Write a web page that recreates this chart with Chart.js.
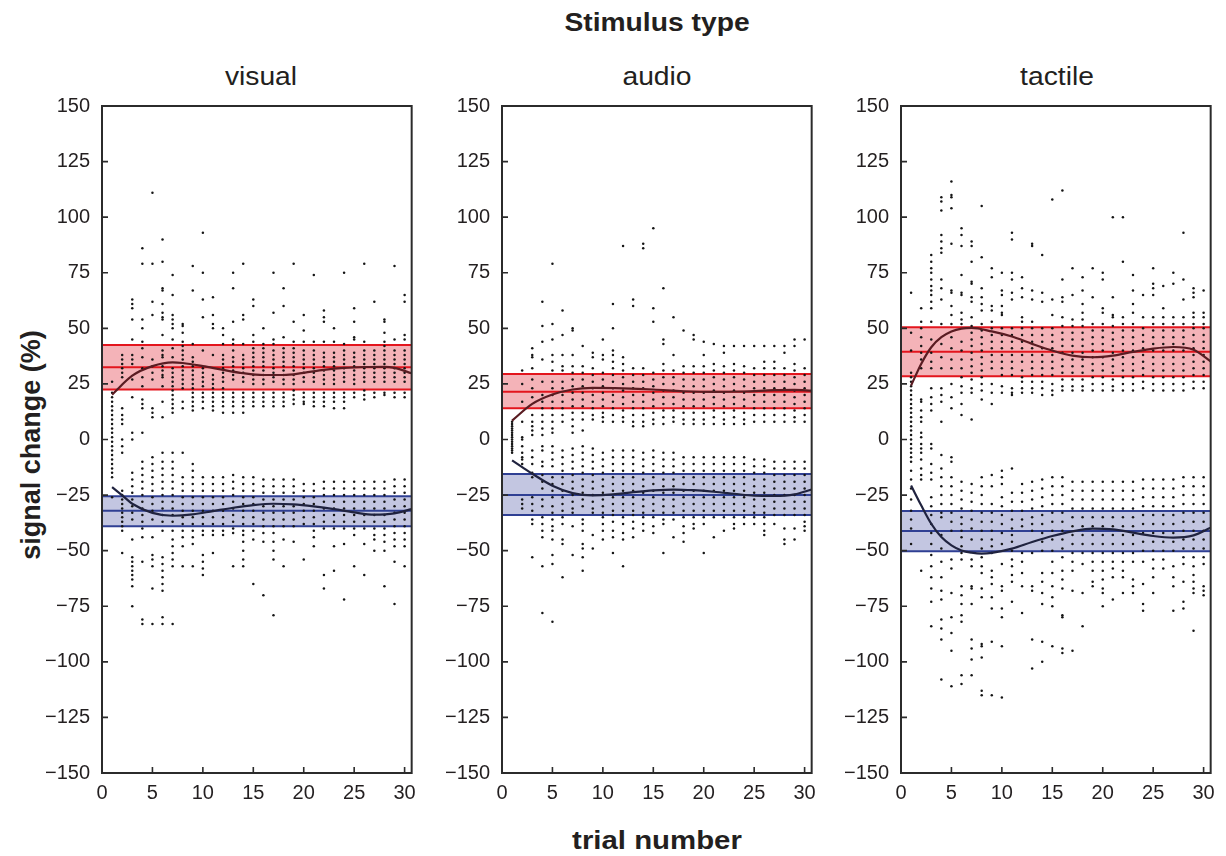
<!DOCTYPE html>
<html>
<head>
<meta charset="utf-8">
<script src="https://cdn.jsdelivr.net/npm/chart.js@4.4.1/dist/chart.umd.min.js"></script>
<style>
  body { margin: 0; width: 1226px; height: 856px; background: #fff; overflow: hidden; position: relative; font-family: 'Liberation Sans', Arial, sans-serif; color: #231f20; }
  .txt { position: absolute; white-space: nowrap; transform: translate(-50%, -50%) scaleX(1.13); }
  .panel { position: absolute; top: 82px; }
</style>
</head>
<body>
<div class="txt" style="left:657px;top:22px;font-size:25px;font-weight:bold">Stimulus type</div>
<div class="txt" style="left:261px;top:76px;font-size:25px">visual</div>
<div class="txt" style="left:657px;top:76px;font-size:25px">audio</div>
<div class="txt" style="left:1057px;top:76px;font-size:25px">tactile</div>
<div class="txt" style="left:657px;top:840px;font-size:26px;font-weight:bold">trial number</div>
<div class="txt" style="left:31px;top:445px;font-size:27px;font-weight:bold;transform:translate(-50%, -50%) rotate(-90deg)">signal change (%)</div>

<canvas id="visual" class="panel" style="left:32px" width="392" height="726"></canvas>
<canvas id="audio" class="panel" style="left:432px" width="392" height="726"></canvas>
<canvas id="tactile" class="panel" style="left:831px" width="392" height="726"></canvas>

<script>
const trialNumbers = [1, 2, 3, 4, 5, 6, 7, 8, 9, 10, 11, 12, 13, 14, 15, 16, 17, 18, 19, 20, 21, 22, 23, 24, 25, 26, 27, 28, 29, 30]
const xTicks = [0, 5, 10, 15, 20, 25, 30]
const yTicks = [-150, -125, -100, -75, -50, -25, 0, 25, 50, 75, 100, 125, 150]
const xMax = 30.7

// one list of dot values per trial (signal change, %)
const visualDots = [
  [26, 21, 19, 17, 15, 13, 11, 9, 7, 5, 3, 1, -1, -3, -5, -7, -9, -11, -13, -15, -17, -26],
  [38, 36, 34, 32, 30, 28, 14, 11, 9, 7, 0, -3, -6, -23, -25, -27, -29, -31, -33, -35, -37, -39, -41, -51],
  [63, 61, 59, 54, 45, 38, 36, 34, 27, 19, 3, 0, -15, -18, -21, -24, -27, -30, -33, -36, -45, -53, -55, -57, -59, -61, -63, -66, -75],
  [86, 79, 54, 50, 44, 41, 37, 32, 28, 24, 18, 16, 14, 3, -10, -13, -16, -19, -22, -25, -28, -31, -34, -37, -40, -44, -55, -81, -83],
  [111, 79, 62, 56, 36, 33, 30, 27, 14, 12, 10, -8, -11, -14, -17, -20, -23, -26, -29, -32, -36, -44, -52, -54, -57, -67, -83],
  [90, 80, 68, 67, 61, 57, 55, 54, 47, 40, 38, 37, 33, 31, 29, 28, 24, 17, 10, -6, -10, -13, -16, -19, -22, -25, -28, -31, -34, -37, -41, -53, -56, -59, -62, -65, -68, -80, -83],
  [74, 65, 56, 54, 52, 50, 45, 41, 37, 32, 30, 28, 26, 24, 22, 20, 18, 16, 14, 12, -6, -10, -13, -16, -19, -22, -25, -28, -31, -34, -37, -41, -45, -48, -51, -54, -57, -83],
  [52, 51, 48, 44, 42, 40, 38, 36, 33, 31, 29, 27, 25, 23, 17, 14, -6, -17, -20, -23, -26, -29, -32, -35, -38, -41, -44, -48, -57],
  [78, 67, 43, 37, 35, 33, 31, 29, 27, 25, 23, 21, 19, 17, 15, 13, -11, -14, -17, -20, -23, -26, -29, -32, -35, -38, -41, -44, -47, -57],
  [93, 75, 63, 55, 40, 32, 30, 28, 26, 24, 21, 19, 17, 14, -17, -20, -23, -26, -29, -32, -35, -38, -41, -43, -52, -55, -58, -61],
  [64, 56, 52, 50, 38, 29, 27, 25, 23, 21, 19, 17, 15, 13, -17, -20, -23, -26, -29, -32, -35, -38, -41, -43, -51],
  [50, 47, 43, 38, 36, 34, 32, 30, 28, 26, 23, 21, 19, 17, 15, 12, -17, -20, -23, -26, -29, -32, -35, -38, -41, -43],
  [75, 68, 53, 45, 43, 40, 37, 35, 33, 31, 29, 27, 21, 19, 17, 15, 12, -16, -19, -22, -25, -28, -31, -34, -37, -40, -42, -57],
  [79, 56, 54, 43, 38, 36, 34, 32, 30, 28, 26, 21, 19, 17, 15, 12, -17, -20, -23, -26, -29, -32, -35, -38, -41, -43, -46, -50, -54, -57],
  [63, 60, 47, 44, 41, 39, 37, 35, 33, 31, 29, 27, 25, 21, 19, 17, 15, -17, -20, -23, -26, -29, -32, -35, -38, -41, -45, -65],
  [50, 43, 41, 39, 37, 35, 33, 31, 29, 27, 25, 21, 19, 17, 15, -18, -21, -24, -27, -30, -33, -36, -39, -42, -46, -70],
  [75, 57, 45, 43, 40, 38, 36, 34, 32, 30, 28, 26, 21, 19, 17, 15, -18, -21, -24, -27, -30, -33, -36, -39, -42, -46, -50, -54, -79],
  [68, 60, 46, 41, 39, 37, 35, 33, 31, 29, 27, 25, 21, 19, 17, 15, -18, -21, -24, -27, -30, -33, -36, -39, -45, -57],
  [79, 53, 44, 41, 39, 37, 35, 33, 31, 29, 27, 25, 22, 20, 18, 16, -18, -21, -24, -27, -30, -33, -36, -39, -46],
  [56, 49, 44, 40, 38, 36, 34, 32, 30, 28, 26, 21, 19, 17, 16, -20, -23, -26, -29, -32, -35, -38, -54],
  [74, 44, 40, 38, 36, 34, 32, 30, 28, 26, 21, 19, 17, 15, -20, -23, -26, -29, -32, -35, -38, -41, -44, -48],
  [58, 55, 53, 44, 39, 37, 35, 33, 31, 29, 27, 25, 21, 19, 17, 15, -19, -22, -25, -28, -31, -34, -37, -40, -61, -67],
  [50, 44, 39, 37, 35, 33, 31, 29, 27, 25, 21, 19, 17, 14, -19, -22, -25, -28, -31, -34, -37, -40, -48, -59],
  [75, 43, 40, 38, 36, 34, 32, 30, 28, 26, 21, 19, 17, 14, -19, -22, -25, -28, -31, -34, -37, -40, -47, -72],
  [59, 53, 46, 45, 39, 37, 35, 33, 31, 29, 27, 25, 21, 19, -19, -22, -25, -28, -31, -34, -37, -40, -43, -57],
  [79, 44, 40, 38, 36, 34, 32, 30, 28, 26, 22, 20, 18, -19, -22, -25, -28, -31, -34, -37, -40, -47, -61],
  [62, 40, 38, 36, 34, 32, 30, 28, 26, 21, 19, -19, -22, -25, -28, -31, -34, -37, -40, -43, -45, -50],
  [54, 53, 48, 44, 42, 40, 38, 36, 34, 32, 30, 28, 26, 21, 20, -19, -22, -25, -28, -31, -34, -37, -40, -43, -46, -50, -66],
  [78, 45, 40, 38, 36, 34, 32, 30, 28, 26, 21, 19, -18, -21, -24, -27, -30, -33, -36, -39, -42, -45, -48, -55, -74],
  [65, 62, 47, 45, 40, 38, 36, 34, 32, 30, 28, 26, 21, 19, -18, -21, -24, -27, -30, -33, -36, -39, -42, -45, -48, -57]
]

const audioDots = [
  [8, 7, 6, 5, 4, 3, 2, 1, 0, -1, -2, -3, -4, -5, -6],
  [31, 25, 17, 8, 1, 0, -3, -6, -8, -9, -11, -27, -29, -31],
  [41, 38, 37, 32, 27, 23, 19, 11, 8, 6, 4, 2, -5, -8, -11, -15, -17, -26, -29, -32, -36, -38, -53],
  [62, 51, 44, 36, 26, 20, 17, 14, 11, 8, 5, 2, -3, -5, -10, -12, -16, -19, -22, -27, -30, -35, -38, -41, -44, -57, -78],
  [79, 52, 45, 38, 35, 31, 26, 23, 20, 17, 14, 11, 8, 5, 3, -3, -6, -9, -12, -17, -20, -23, -26, -30, -33, -36, -39, -41, -45, -52, -56, -82],
  [58, 47, 38, 33, 31, 26, 23, 20, 17, 14, 11, 8, -5, -8, -11, -14, -17, -20, -23, -26, -29, -32, -35, -38, -45, -47, -62],
  [50, 49, 38, 33, 30, 27, 24, 21, 18, 15, 12, 9, 6, 3, -4, -7, -10, -13, -16, -19, -22, -25, -28, -31, -33, -39, -52],
  [42, 33, 30, 27, 24, 21, 18, 15, 12, 9, 4, -3, -6, -9, -12, -15, -18, -21, -24, -27, -30, -36, -38, -41, -47, -49, -53, -59],
  [39, 37, 32, 29, 26, 23, 20, 17, 14, 11, 9, -4, -7, -10, -13, -16, -19, -22, -25, -28, -31, -33, -43, -49],
  [45, 38, 36, 30, 27, 24, 21, 18, 15, 12, 10, 8, -6, -9, -12, -15, -18, -21, -24, -27, -30, -33, -35, -38, -41, -45],
  [61, 50, 40, 38, 35, 32, 29, 26, 23, 20, 17, 14, 11, 8, -5, -8, -11, -14, -17, -20, -23, -26, -29, -32, -34, -37, -41, -44, -51],
  [87, 37, 34, 31, 28, 25, 22, 19, 16, 13, 10, 8, -5, -8, -11, -14, -17, -20, -23, -26, -29, -32, -35, -38, -42, -45, -57],
  [63, 60, 32, 29, 26, 23, 20, 17, 14, 11, 8, 6, -5, -8, -11, -14, -17, -20, -23, -26, -29, -32, -34, -37, -40, -44],
  [88, 86, 32, 29, 26, 23, 20, 17, 14, 11, 8, 6, -6, -9, -12, -15, -18, -21, -24, -27, -30, -33, -35, -38, -41],
  [95, 59, 53, 30, 27, 24, 21, 18, 15, 12, 9, 7, -5, -8, -11, -14, -17, -20, -23, -26, -29, -32, -35, -39, -42],
  [68, 45, 43, 34, 31, 28, 25, 22, 19, 16, 13, 10, 7, -6, -9, -12, -15, -18, -21, -24, -27, -30, -33, -36, -38, -51],
  [55, 38, 31, 28, 25, 22, 19, 16, 13, 10, 8, -6, -9, -12, -15, -18, -21, -24, -27, -30, -33, -36, -44],
  [49, 33, 30, 27, 24, 21, 18, 15, 12, 9, 7, -8, -11, -14, -17, -20, -23, -26, -29, -32, -35, -39, -42, -46],
  [47, 45, 33, 30, 27, 24, 21, 18, 15, 12, 9, 7, -8, -11, -14, -17, -20, -23, -26, -29, -32, -35, -38, -40],
  [44, 38, 33, 30, 27, 24, 21, 18, 15, 12, 9, 7, -8, -11, -14, -17, -20, -23, -26, -29, -32, -35, -38, -51],
  [43, 34, 31, 28, 25, 22, 19, 16, 13, 10, 7, -8, -11, -14, -17, -20, -23, -26, -29, -32, -35, -44],
  [42, 39, 33, 30, 27, 24, 21, 18, 15, 12, 9, 7, -8, -11, -14, -17, -20, -23, -26, -29, -32, -35, -41],
  [42, 34, 31, 28, 25, 22, 19, 16, 13, 10, 7, -8, -11, -14, -17, -20, -23, -26, -29, -32, -35, -38, -40],
  [42, 33, 30, 27, 24, 21, 18, 15, 12, 9, 7, -8, -11, -14, -17, -20, -23, -26, -29, -32, -35, -38],
  [42, 32, 29, 26, 23, 20, 17, 14, 11, 8, -9, -12, -15, -18, -21, -24, -27, -30, -33, -35, -38],
  [42, 35, 32, 29, 26, 23, 20, 17, 14, 11, 8, -9, -12, -15, -18, -21, -24, -27, -30, -33, -35, -38, -41, -43],
  [42, 35, 32, 29, 26, 23, 20, 17, 14, 11, 8, -10, -13, -16, -19, -22, -25, -28, -31, -34, -38],
  [42, 39, 32, 29, 26, 23, 20, 17, 14, 11, 8, -10, -13, -16, -19, -22, -25, -28, -31, -34, -40, -45, -47],
  [45, 42, 34, 31, 28, 25, 22, 19, 16, 13, 10, 8, -10, -13, -16, -19, -22, -25, -28, -31, -34, -40, -45],
  [45, 32, 29, 26, 23, 20, 17, 14, 11, 8, -10, -13, -16, -19, -22, -25, -28, -31, -34, -37, -39, -41]
]

const tactileDots = [
  [66, 48, 40, 30, 28, 26, 24, 22, 20, 18, 16, 14, 12, 10, 8, 6, 4, 2, 0, -2, -4, -6, -8, -10, -14, -18, -22, -27, -32, -36, -40, -47],
  [59, 53, 50, 46, 42, 39, 36, 32, 18, 17, 13, 10, 8, 3, 1, -2, -4, -6, -9, -13, -16, -18, -59],
  [83, 80, 77, 75, 72, 69, 67, 65, 62, 59, 53, 45, 39, 35, 32, 23, 19, 16, 13, -2, -4, -11, -15, -18, -26, -30, -34, -38, -42, -47, -52, -57, -62, -67, -73, -84],
  [109, 107, 103, 92, 89, 86, 84, 72, 68, 63, 52, 43, 37, 32, 23, 20, 17, 8, -7, -13, -17, -21, -25, -29, -33, -35, -43, -49, -55, -62, -68, -72, -81, -85, -90, -108],
  [116, 110, 109, 104, 88, 67, 66, 60, 56, 52, 46, 41, 36, 32, 25, 19, 14, -8, -10, -17, -21, -25, -29, -33, -37, -41, -54, -58, -69, -80, -87, -95, -111],
  [95, 92, 87, 74, 66, 65, 57, 54, 52, 44, 40, 36, 32, 28, 24, 21, 16, 11, -19, -23, -27, -31, -35, -38, -41, -44, -48, -51, -54, -66, -70, -74, -79, -82, -106, -110],
  [89, 87, 80, 71, 70, 64, 62, 55, 51, 48, 45, 42, 39, 36, 33, 30, 27, 23, 21, 9, -20, -24, -28, -32, -36, -40, -45, -54, -57, -66, -67, -74, -90, -94, -99, -106],
  [105, 82, 68, 64, 61, 58, 52, 49, 46, 43, 40, 37, 34, 31, 28, 25, 22, 18, -17, -21, -25, -29, -33, -37, -41, -45, -49, -53, -57, -60, -67, -71, -92, -93, -98, -113, -115],
  [77, 73, 60, 58, 53, 50, 47, 44, 41, 38, 35, 32, 25, 21, 16, -16, -21, -29, -33, -37, -41, -45, -48, -51, -59, -62, -65, -71, -76, -91, -115],
  [75, 67, 65, 60, 57, 56, 50, 47, 44, 41, 38, 35, 32, 29, 24, 21, -14, -17, -20, -26, -30, -34, -38, -42, -47, -56, -66, -68, -76, -80, -93, -116],
  [93, 90, 75, 72, 66, 63, 50, 47, 44, 41, 38, 35, 32, 29, 23, 21, 20, -13, -24, -28, -32, -36, -40, -43, -46, -50, -54, -57, -61, -64, -73],
  [73, 68, 64, 55, 53, 50, 47, 44, 41, 38, 35, 31, 28, 26, 23, 21, -20, -24, -28, -32, -36, -39, -51, -55, -60, -66, -78],
  [88, 87, 67, 63, 53, 50, 47, 44, 41, 38, 35, 32, 29, 26, 23, 21, -19, -23, -27, -31, -35, -38, -41, -51, -66, -68, -90, -103],
  [83, 66, 62, 50, 47, 44, 41, 38, 35, 32, 29, 26, 23, 20, -18, -22, -26, -30, -34, -38, -42, -46, -50, -60, -64, -69, -74, -91, -100],
  [108, 63, 56, 50, 47, 44, 41, 38, 35, 32, 29, 25, 22, 20, -17, -21, -25, -29, -33, -37, -41, -45, -50, -55, -60, -66, -71, -75, -93],
  [112, 72, 64, 62, 55, 51, 48, 45, 42, 39, 36, 33, 30, 27, 24, 22, -17, -21, -25, -29, -33, -37, -41, -45, -49, -53, -59, -63, -67, -79, -80, -94, -96],
  [77, 65, 54, 51, 48, 45, 42, 39, 36, 33, 30, 27, 24, 22, -19, -23, -27, -31, -35, -39, -43, -47, -51, -55, -59, -68, -95],
  [73, 67, 61, 57, 54, 51, 48, 45, 42, 39, 36, 33, 30, 27, 24, 22, -19, -23, -27, -31, -35, -39, -43, -47, -51, -56, -69, -84],
  [77, 64, 52, 49, 46, 43, 40, 37, 34, 31, 28, 25, 22, -19, -23, -27, -31, -35, -39, -43, -47, -51, -55, -59, -64, -66],
  [75, 72, 59, 57, 52, 49, 46, 43, 40, 37, 34, 31, 28, 25, 22, -19, -23, -27, -31, -35, -39, -43, -47, -51, -55, -59, -63, -67, -69, -75],
  [100, 64, 56, 55, 51, 48, 45, 42, 39, 36, 33, 30, 27, 24, 22, -19, -23, -27, -31, -35, -39, -43, -47, -51, -55, -58, -62, -72],
  [100, 80, 55, 52, 49, 46, 43, 40, 37, 34, 31, 28, 25, 22, -19, -23, -27, -31, -35, -39, -43, -47, -51, -55, -59, -62, -69],
  [74, 67, 61, 57, 52, 49, 46, 43, 40, 37, 34, 31, 28, 25, 22, -19, -23, -27, -31, -35, -39, -43, -47, -51, -55, -63, -66, -69],
  [65, 55, 50, 47, 44, 41, 38, 35, 32, 29, 26, 23, -18, -22, -26, -30, -34, -38, -42, -46, -50, -55, -65, -74, -77],
  [77, 70, 68, 65, 55, 52, 49, 46, 43, 40, 37, 34, 31, 28, 25, 22, -18, -22, -26, -30, -34, -38, -42, -46, -50, -54, -58, -62, -69],
  [69, 59, 55, 52, 49, 46, 43, 40, 37, 34, 31, 28, 25, 22, -18, -22, -26, -30, -34, -38, -42, -46, -50, -54, -58],
  [75, 70, 55, 52, 49, 46, 43, 40, 37, 34, 31, 28, 25, 22, -18, -22, -26, -30, -34, -38, -42, -46, -50, -57, -62, -66, -77],
  [93, 72, 63, 55, 52, 49, 46, 43, 40, 37, 34, 31, 28, 25, 22, -17, -21, -25, -29, -33, -37, -41, -45, -49, -53, -56, -64, -73, -76],
  [68, 66, 64, 57, 55, 52, 50, 47, 44, 41, 38, 35, 32, 29, 26, 23, -17, -21, -25, -29, -33, -37, -41, -45, -49, -53, -57, -61, -64, -67, -69, -86],
  [67, 57, 55, 52, 50, 47, 44, 41, 38, 35, 32, 29, 26, 23, -17, -21, -25, -29, -33, -37, -41, -45, -49, -53, -56, -66, -68, -70]
]

// bands: [lower, mean, upper]
const visualRed = [22.5, 32.5, 42.5]
const visualBlue = [-39, -32, -25.5]
const audioRed = [14, 21.5, 29.5]
const audioBlue = [-34, -25, -15.5]
const tactileRed = [28.5, 39.5, 50.5]
const tactileBlue = [-50.3, -41.2, -32.2]

// smooth fits
const visualUpX = [1, 3, 5, 7, 8, 10, 12, 14, 16, 18, 20, 22, 24, 26, 28, 29, 30.7]
const visualUpY = [20.2, 28.7, 33, 34.7, 34.4, 33, 31.3, 29.8, 29, 29, 30, 31.3, 32.2, 32.6, 32.7, 32.2, 29.8]
const visualLowX = [1, 2, 3, 5, 7, 9, 11, 13, 15, 17, 19, 21, 23, 25, 27, 29, 30.7]
const visualLowY = [-21.4, -25.1, -28.9, -33, -34.3, -33.7, -32.2, -30.7, -29.5, -28.9, -29.2, -30.1, -31.3, -32.8, -33.8, -33.2, -31.3]
const audioUpX = [1, 3, 5, 7, 9, 12, 15, 18, 21, 24, 27, 29, 30.7]
const audioUpY = [8.5, 16, 20.2, 22.5, 23.2, 23, 22.5, 21.7, 21.4, 21.6, 22.2, 22.3, 22]
const audioLowX = [1, 2, 3, 5, 7, 9, 11, 13, 15, 17, 19, 21, 23, 25, 27, 29, 30.7]
const audioLowY = [-9.4, -12.4, -15.4, -20.8, -24.1, -25.1, -24.7, -23.7, -22.9, -22.5, -22.8, -23.5, -24.4, -25.3, -25.4, -24.7, -22.5]
const tactileUpX = [1, 2, 3, 4, 5, 6, 7, 9, 11, 13, 15, 17, 19, 21, 23, 25, 27, 29, 30.7]
const tactileUpY = [24.3, 34, 41.5, 46, 48.6, 49.9, 50.2, 48.6, 46.3, 43, 40, 37.7, 37, 37.7, 39.4, 40.9, 41.6, 40.4, 35.2]
const tactileLowX = [1, 2, 3, 4, 5, 6, 7, 8, 9, 11, 13, 15, 17, 19, 21, 23, 25, 27, 29, 30.7]
const tactileLowY = [-20.7, -29.6, -37.9, -43.9, -47.6, -49.9, -50.9, -51.3, -51, -49.1, -46.1, -43.4, -41.3, -40.1, -40.4, -41.9, -43.4, -44.1, -43.1, -39.7]

const panels = [
  { id: 'visual', dots: visualDots, red: visualRed, blue: visualBlue, up: [visualUpX, visualUpY], low: [visualLowX, visualLowY] },
  { id: 'audio', dots: audioDots, red: audioRed, blue: audioBlue, up: [audioUpX, audioUpY], low: [audioLowX, audioLowY] },
  { id: 'tactile', dots: tactileDots, red: tactileRed, blue: tactileBlue, up: [tactileUpX, tactileUpY], low: [tactileLowX, tactileLowY] }
]

Chart.defaults.font.family = "'Liberation Sans', Arial, sans-serif"
Chart.defaults.font.size = 20
Chart.defaults.color = '#231f20'

// box around the plot and inward tick marks
const framePlugin = {
  id: 'frame',
  afterDraw (chart) {
    const { ctx, chartArea: a, scales: { x, y } } = chart
    ctx.save()
    ctx.strokeStyle = '#2b2b2b'
    ctx.lineWidth = 1.6
    ctx.beginPath()
    x.ticks.forEach(t => {
      const px = x.getPixelForValue(t.value)
      ctx.moveTo(px, a.bottom)
      ctx.lineTo(px, a.bottom - 6)
    })
    y.ticks.forEach(t => {
      const py = y.getPixelForValue(t.value)
      ctx.moveTo(a.left, py)
      ctx.lineTo(a.left + 6, py)
    })
    ctx.stroke()
    ctx.lineWidth = 2
    ctx.strokeRect(a.left, a.top, a.right - a.left, a.bottom - a.top)
    ctx.restore()
  }
}

function bandSets (band, line, fillColor) {
  const seg = v => [{ x: 0, y: v }, { x: xMax, y: v }]
  return [
    { data: seg(band[0]), borderColor: line, borderWidth: 2, pointRadius: 0, fill: false, order: 5 },
    { data: seg(band[2]), borderColor: line, borderWidth: 2, pointRadius: 0, fill: '-1', backgroundColor: fillColor, order: 6 },
    { data: seg(band[1]), borderColor: line, borderWidth: 2, pointRadius: 0, fill: false, order: 5 }
  ]
}

function fitSet (xs, ys, color) {
  return {
    data: xs.map((x, i) => ({ x, y: ys[i] })),
    borderColor: color,
    borderWidth: 2.2,
    pointRadius: 0,
    fill: false,
    cubicInterpolationMode: 'monotone',
    order: 1
  }
}

panels.forEach(p => {
  const points = []
  p.dots.forEach((vals, i) => vals.forEach(v => points.push({ x: trialNumbers[i], y: v })))

  new Chart(document.getElementById(p.id), {
    type: 'line',
    data: {
      datasets: [
        ...bandSets(p.red, '#e3151d', '#f4b3b8'),
        ...bandSets(p.blue, '#2f3f93', '#c3c6e1'),
        { data: points, showLine: false, pointRadius: 1.25, pointBackgroundColor: '#151515', pointBorderWidth: 0, fill: false, order: 4 },
        fitSet(p.up[0], p.up[1], '#5a1c22'),
        fitSet(p.low[0], p.low[1], '#20233f')
      ]
    },
    options: {
      responsive: false,
      animation: false,
      events: [],
      layout: { padding: { top: 0, right: 12, left: 0, bottom: 0 } },
      plugins: { legend: { display: false }, tooltip: { enabled: false } },
      scales: {
        x: {
          type: 'linear',
          min: 0,
          max: xMax,
          afterBuildTicks: s => { s.ticks = xTicks.map(v => ({ value: v })) },
          afterFit: s => { s.height = 35 },
          grid: { display: false, drawTicks: false },
          border: { display: false },
          ticks: { padding: 8, maxRotation: 0, autoSkip: false }
        },
        y: {
          min: -150,
          max: 150,
          afterBuildTicks: s => { s.ticks = yTicks.map(v => ({ value: v })) },
          afterFit: s => { s.width = 70 },
          grid: { display: false, drawTicks: false },
          border: { display: false },
          ticks: { padding: 12, autoSkip: false, callback: v => String(v).replace('-', '\u2212') }
        }
      }
    },
    plugins: [framePlugin]
  })
})
</script>
</body>
</html>
